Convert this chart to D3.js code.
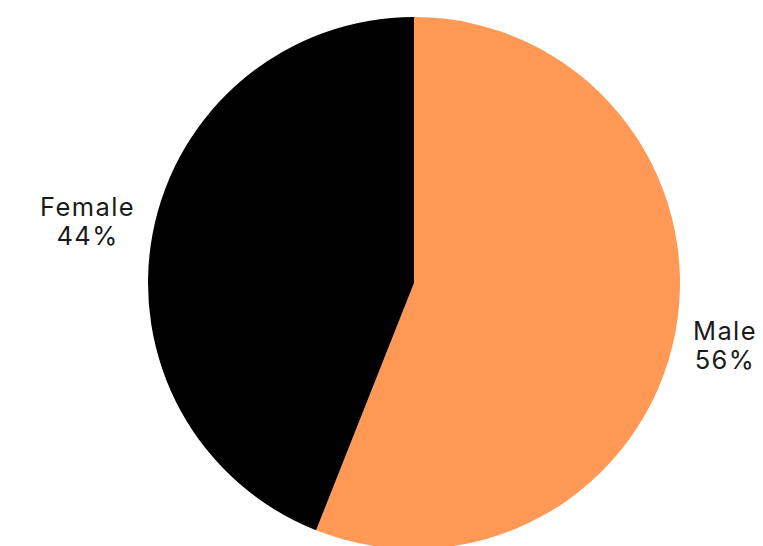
<!DOCTYPE html>
<html><head><meta charset="utf-8">
<script src="https://cdn.jsdelivr.net/npm/d3@7"></script>
<style>html,body{margin:0;padding:0;background:#fff;overflow:hidden}</style>
</head><body>
<svg id="chart" width="763" height="546"></svg>
<script>
const categories = ["Male", "Female"];
const values = [56, 44];
const colors = ["#FF9955", "#000000"];

const svg = d3.select("#chart");
const cx = 414, cy = 283, r = 266;
const g = svg.append("g").attr("transform", `translate(${cx},${cy})`);
const data = categories.map((c, i) => ({cat: c, val: values[i], col: colors[i]}));
const pie = d3.pie().value(d => d.val).sort(null);
const arc = d3.arc().innerRadius(0).outerRadius(r);
const arcs = pie(data);
g.selectAll("path").data(arcs).join("path").attr("d", arc).attr("fill", d => d.data.col);

const gap = 18;
arcs.forEach(d => {
  const mid = (d.startAngle + d.endAngle) / 2;
  const sx = Math.sin(mid), sy = -Math.cos(mid);
  const px = (r + gap) * sx, py = (r + gap) * sy;
  const t = g.append("text")
    .attr("text-anchor", "middle")
    .attr("font-family", "Inter, 'Open Sans', sans-serif")
    .attr("font-size", 25.5)
    .attr("letter-spacing", "1.4px")
    .attr("fill", "#1a1a1a");
  t.append("tspan").attr("x", 0).attr("y", 0).text(d.data.cat);
  t.append("tspan").attr("x", 0).attr("y", 29).text(d.data.val + "%");
  const bb = t.node().getBBox();
  const w = bb.width;
  const tx = sx < 0 ? px - w / 2 : px + w / 2;
  const midY = py + sy * 45;
  const ty = midY - (bb.y + bb.height / 2);
  t.attr("transform", `translate(${tx},${ty})`);
});
</script>
</body></html>
